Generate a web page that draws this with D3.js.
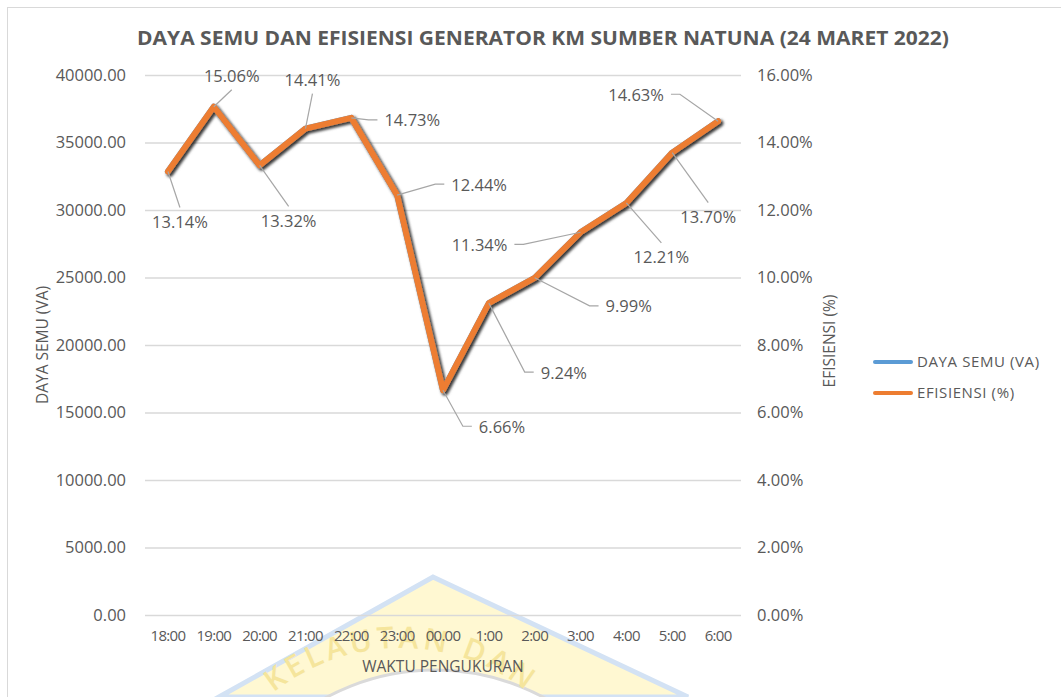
<!DOCTYPE html>
<html>
<head>
<meta charset="utf-8">
<script src="https://cdn.jsdelivr.net/npm/d3@7"></script>
<style>
  body { margin: 0; background: #fff; }
  text { font-family: "Open Sans", sans-serif; fill: #595959; }
</style>
</head>
<body>
<svg id="chart" width="1061" height="697"></svg>
<script>
// data
const categories = ["18:00", "19:00", "20:00", "21:00", "22:00", "23:00", "00.00", "1:00", "2:00", "3:00", "4:00", "5:00", "6:00"];
const dayaSemu = [32850, 37650, 33300, 36025, 36825, 31100, 16650, 23100, 24975, 28350, 30525, 34250, 36575];
const efisiensi = [0.1314, 0.1506, 0.1332, 0.1441, 0.1473, 0.1244, 0.0666, 0.0924, 0.0999, 0.1134, 0.1221, 0.1370, 0.1463];
const leftTicks = [0, 5000, 10000, 15000, 20000, 25000, 30000, 35000, 40000];
const rightTicks = [0, 0.02, 0.04, 0.06, 0.08, 0.10, 0.12, 0.14, 0.16];

// label placement (px from the point to the label centre)
const labelOffsets = [[12, 50], [18, -31], [29, 55], [7, -49], [61, 2], [82, -11], [59, 36], [75, 69], [94, 28], [-101, 12], [35, 54], [36, 64], [-82, -27]];

const PLOT = { left: 145, right: 741, top: 75, bottom: 615 };
const BLUE = "#5B9BD5", ORANGE = "#ED7D31", GRID = "#d9d9d9";

const svg = d3.select("#chart");

// shadow behind the line
const defs = svg.append("defs");
defs.append("filter").attr("id", "shadow")
  .attr("x", "-10%").attr("y", "-10%").attr("width", "120%").attr("height", "120%")
  .append("feDropShadow")
  .attr("dx", 2).attr("dy", 2).attr("stdDeviation", 1.6)
  .attr("flood-color", "#000").attr("flood-opacity", 0.55);

// faint watermark at the bottom
const wm = svg.append("g").attr("class", "watermark");
wm.append("path")
  .attr("d", "M219,697 L433,577 L688,697 Z")
  .attr("fill", "#fff8d2").attr("stroke", "#d3e2f4").attr("stroke-width", 5);
wm.append("circle").attr("cx", 435).attr("cy", 899).attr("r", 229)
  .attr("fill", "#fff").attr("stroke", "#dadada").attr("stroke-width", 3);
defs.append("path").attr("id", "wmArc")
  .attr("d", "M197,852 A204,204 0 0,1 605,852");
wm.append("text")
  .attr("font-size", 30).attr("font-weight", 600).attr("letter-spacing", 4)
  .style("fill", "#f5e59c")
  .append("textPath").attr("href", "#wmArc").attr("startOffset", "50%")
  .attr("text-anchor", "middle")
  .text("KELAUTAN DAN");

// chart border
svg.append("rect")
  .attr("x", 7.5).attr("y", 7.5).attr("width", 1070).attr("height", 720)
  .attr("fill", "none").attr("stroke", GRID);

// scales
const x = d3.scaleBand().domain(categories).range([PLOT.left, PLOT.right]);
const yLeft = d3.scaleLinear().domain([0, 40000]).range([PLOT.bottom, PLOT.top]);
const yRight = d3.scaleLinear().domain([0, 0.16]).range([PLOT.bottom, PLOT.top]);
const cx = d => x(d) + x.bandwidth() / 2;

// gridlines
svg.append("g")
  .attr("transform", `translate(${PLOT.left},0)`)
  .call(d3.axisLeft(yLeft).tickValues(leftTicks).tickSize(-(PLOT.right - PLOT.left)).tickFormat(""))
  .call(g => g.select(".domain").remove())
  .call(g => g.selectAll("line").attr("stroke", GRID).attr("stroke-width", 1.3));

// left axis
svg.append("g")
  .attr("transform", `translate(${PLOT.left},0)`)
  .call(d3.axisLeft(yLeft).tickValues(leftTicks).tickSize(0).tickPadding(19).tickFormat(d3.format(".2f")))
  .call(g => g.select(".domain").remove())
  .call(g => g.selectAll("text").attr("font-size", 16.5).attr("font-family", null));

// right axis
svg.append("g")
  .attr("transform", `translate(${PLOT.right},0)`)
  .call(d3.axisRight(yRight).tickValues(rightTicks).tickSize(0).tickPadding(16).tickFormat(d3.format(".2%")))
  .call(g => g.select(".domain").remove())
  .call(g => g.selectAll("text").attr("font-size", 16.5).attr("font-family", null));

// x axis
svg.append("g")
  .attr("transform", `translate(0,${PLOT.bottom})`)
  .call(d3.axisBottom(x).tickSize(0).tickPadding(15))
  .call(g => g.select(".domain").remove())
  .call(g => g.selectAll("text").attr("font-size", 15).attr("letter-spacing", -0.7).attr("font-family", null));

// lines
const lineLeft = d3.line().x((d, i) => cx(categories[i])).y(d => yLeft(d));
const lineRight = d3.line().x((d, i) => cx(categories[i])).y(d => yRight(d));

svg.append("path").datum(dayaSemu)
  .attr("d", lineLeft)
  .attr("fill", "none").attr("stroke", BLUE).attr("stroke-width", 6)
  .attr("stroke-linejoin", "round").attr("stroke-linecap", "round")
  .attr("filter", "url(#shadow)");

svg.append("path").datum(efisiensi)
  .attr("d", lineRight)
  .attr("fill", "none").attr("stroke", ORANGE).attr("stroke-width", 6)
  .attr("stroke-linejoin", "round").attr("stroke-linecap", "round")
  .attr("filter", "url(#shadow)");

// data labels with leader lines
const fmtPct = d3.format(".2%");
const labels = svg.append("g").attr("class", "labels");
efisiensi.forEach((v, i) => {
  const px = cx(categories[i]), py = yRight(v);
  const lx = px + labelOffsets[i][0], ly = py + labelOffsets[i][1];
  const t = labels.append("text")
    .attr("x", lx).attr("y", ly)
    .attr("text-anchor", "middle").attr("dominant-baseline", "central")
    .attr("font-size", 16.5)
    .text(fmtPct(v));
  const w = t.node().getComputedTextLength();
  const left = lx - w / 2, right = lx + w / 2;
  let pts;
  if (px >= left - 15 && px <= right + 15) {
    const ey = ly < py ? ly + 14 : ly - 14;
    pts = [[px, py], [lx, ey]];
  } else if (px < left) {
    pts = [[px, py], [left - 16, ly], [left - 7, ly]];
  } else {
    pts = [[px, py], [right + 16, ly], [right + 7, ly]];
  }
  labels.insert("path", "text")
    .attr("d", d3.line()(pts))
    .attr("fill", "none").attr("stroke", "#a6a6a6").attr("stroke-width", 1.2);
});

// title
svg.append("text")
  .attr("x", 543).attr("y", 45)
  .attr("text-anchor", "middle")
  .attr("font-size", 19.5).attr("font-weight", "bold")
  .attr("textLength", 812).attr("lengthAdjust", "spacingAndGlyphs")
  .text("DAYA SEMU DAN EFISIENSI GENERATOR KM SUMBER NATUNA (24 MARET 2022)");

// axis titles
svg.append("text")
  .attr("transform", "translate(48,345) rotate(-90)")
  .attr("text-anchor", "middle").attr("font-size", 15.5)
  .text("DAYA SEMU (VA)");

svg.append("text")
  .attr("transform", "translate(835,341) rotate(-90)")
  .attr("text-anchor", "middle").attr("font-size", 15.5)
  .text("EFISIENSI (%)");

svg.append("text")
  .attr("x", 443).attr("y", 672)
  .attr("text-anchor", "middle").attr("font-size", 15.5)
  .text("WAKTU PENGUKURAN");

// legend
const legendItems = [["DAYA SEMU (VA)", BLUE], ["EFISIENSI (%)", ORANGE]];
const legend = svg.append("g").attr("transform", "translate(873,362)");
legendItems.forEach(([name, color], i) => {
  const g = legend.append("g").attr("transform", `translate(0,${i * 31})`);
  g.append("line").attr("x1", 2).attr("x2", 38)
    .attr("stroke", color).attr("stroke-width", 4).attr("stroke-linecap", "round");
  g.append("text").attr("x", 44).attr("dy", "0.35em")
    .attr("font-size", 15).attr("letter-spacing", 0.6)
    .text(name);
});
</script>
</body>
</html>
